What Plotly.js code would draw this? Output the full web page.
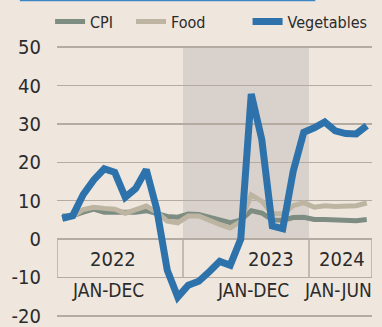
<!DOCTYPE html>
<html>
<head>
<meta charset="utf-8">
<script src="https://cdn.plot.ly/plotly-3.0.1.min.js"></script>
<style>
  html, body { margin: 0; padding: 0; background: #efe6de; }
  #chart { width: 382px; height: 327px; }
</style>
</head>
<body>
<div id="chart"></div>
<script>
// Months Jan 2022 .. Jun 2024 (index 0..29)
const months = [
  'Jan 2022','Feb 2022','Mar 2022','Apr 2022','May 2022','Jun 2022','Jul 2022','Aug 2022','Sep 2022','Oct 2022','Nov 2022','Dec 2022',
  'Jan 2023','Feb 2023','Mar 2023','Apr 2023','May 2023','Jun 2023','Jul 2023','Aug 2023','Sep 2023','Oct 2023','Nov 2023','Dec 2023',
  'Jan 2024','Feb 2024','Mar 2024','Apr 2024','May 2024','Jun 2024'
];
const cpi = [6.0, 6.1, 7.0, 7.8, 7.0, 7.0, 6.7, 7.0, 7.4, 6.8, 5.9, 5.7,
             6.5, 6.4, 5.7, 4.7, 4.3, 4.9, 7.4, 6.8, 5.0, 4.9, 5.6, 5.7,
             5.1, 5.1, 4.9, 4.8, 4.8, 5.1];
const food = [5.4, 5.9, 7.7, 8.3, 8.0, 7.8, 6.7, 7.6, 8.6, 7.0, 4.7, 4.2,
              6.0, 6.0, 4.8, 3.8, 2.9, 4.6, 11.5, 9.9, 6.6, 6.6, 8.7, 9.5,
              8.3, 8.7, 8.5, 8.7, 8.7, 9.4];
const vegetables = [5.4, 6.1, 11.6, 15.4, 18.3, 17.4, 10.9, 13.2, 18.1, 7.8, -8.1, -15.1,
                    -12.0, -11.0, -8.5, -5.8, -6.8, 0.0, 37.8, 26.0, 3.4, 2.7, 17.7, 27.8,
                    29.0, 30.5, 28.2, 27.5, 27.4, 29.5];
const seriesNames = ['CPI', 'Food', 'Vegetables'];
const yearLabels = ['2022', '2023', '2024'];
const periodLabels = ['JAN-DEC', 'JAN-DEC', 'JAN-JUN'];
const yTicks = [-20, -10, 0, 10, 20, 30, 40, 50];

const xIdx = months.map((m, i) => i);
// period boundaries in month index units (derived from the month list)
const bounds = [-0.5, 11.5, 23.5, months.length - 0.5];

const FONT = 'Liberation Sans Narrow, DejaVu Sans Condensed, Arial Narrow, sans-serif';
const TEXT = '#2b2b2b';
const GRID = '#b4aba3';

const traces = [
  { x: xIdx, y: cpi, name: seriesNames[0], type: 'scatter', mode: 'lines',
    line: { color: '#7e8d82', width: 5 }, legend: 'legend', hoverinfo: 'skip' },
  { x: xIdx, y: food, name: seriesNames[1], type: 'scatter', mode: 'lines',
    line: { color: '#bdb5a2', width: 5 }, legend: 'legend2', hoverinfo: 'skip' },
  { x: xIdx, y: vegetables, name: seriesNames[2], type: 'scatter', mode: 'lines',
    line: { color: '#2d72ab', width: 7 }, legend: 'legend3', hoverinfo: 'skip' }
];

const shapes = [
  // shaded 2023 band
  { type: 'rect', xref: 'x', yref: 'y', x0: bounds[1], x1: bounds[2], y0: 0, y1: 50,
    fillcolor: '#d9d1cc', line: { width: 0 }, layer: 'below' },
  // top blue header strip
  { type: 'rect', xref: 'paper', yref: 'paper', x0: -0.118, x1: 0.82, y0: 1.165, y1: 1.18,
    fillcolor: '#3d86c6', line: { width: 0 } }
];
bounds.forEach(b => {
  shapes.push({ type: 'line', xref: 'x', yref: 'y', x0: b, x1: b, y0: 0, y1: -10,
    line: { color: GRID, width: 1.5 }, layer: 'below' });
});

const yearX = [4.83, 19.9, 26.6];
const periodX = [4.4, 18.2, 26.3];
const annotations = [];
yearLabels.forEach((t, i) => annotations.push({
  x: yearX[i], y: -5.2, xref: 'x', yref: 'y', text: t, showarrow: false,
  font: { family: FONT, size: 20, color: TEXT }
}));
periodLabels.forEach((t, i) => annotations.push({
  x: periodX[i], y: -13.3, xref: 'x', yref: 'y', text: t, showarrow: false,
  font: { family: FONT, size: 19, color: TEXT }
}));

const legendBase = {
  orientation: 'h', xanchor: 'left', yanchor: 'middle', y: 1.09,
  bgcolor: 'rgba(0,0,0,0)', borderwidth: 0,
  font: { family: FONT, size: 16, color: TEXT }
};

const layout = {
  width: 382, height: 327,
  margin: { l: 57, r: 10, t: 46, b: 10, autoexpand: false },
  paper_bgcolor: '#efe6de', plot_bgcolor: '#efe6de',
  showlegend: true,
  legend: Object.assign({}, legendBase, { x: -0.022 }),
  legend2: Object.assign({}, legendBase, { x: 0.235 }),
  legend3: Object.assign({}, legendBase, { x: 0.605 }),
  xaxis: { range: [bounds[0], bounds[3]], visible: false, fixedrange: true },
  yaxis: {
    range: [-20.3, 50.3], tickvals: yTicks, ticktext: yTicks.map(String),
    showgrid: true, gridcolor: GRID, gridwidth: 1.5, zeroline: false,
    ticks: 'outside', ticklen: 11, tickcolor: 'rgba(0,0,0,0)',
    ticklabeloverflow: 'allow',
    tickfont: { family: FONT, size: 20, color: TEXT }, showline: false, fixedrange: true
  },
  shapes: shapes,
  annotations: annotations
};

Plotly.newPlot('chart', traces, layout, { displayModeBar: false, staticPlot: true });
</script>
</body>
</html>
